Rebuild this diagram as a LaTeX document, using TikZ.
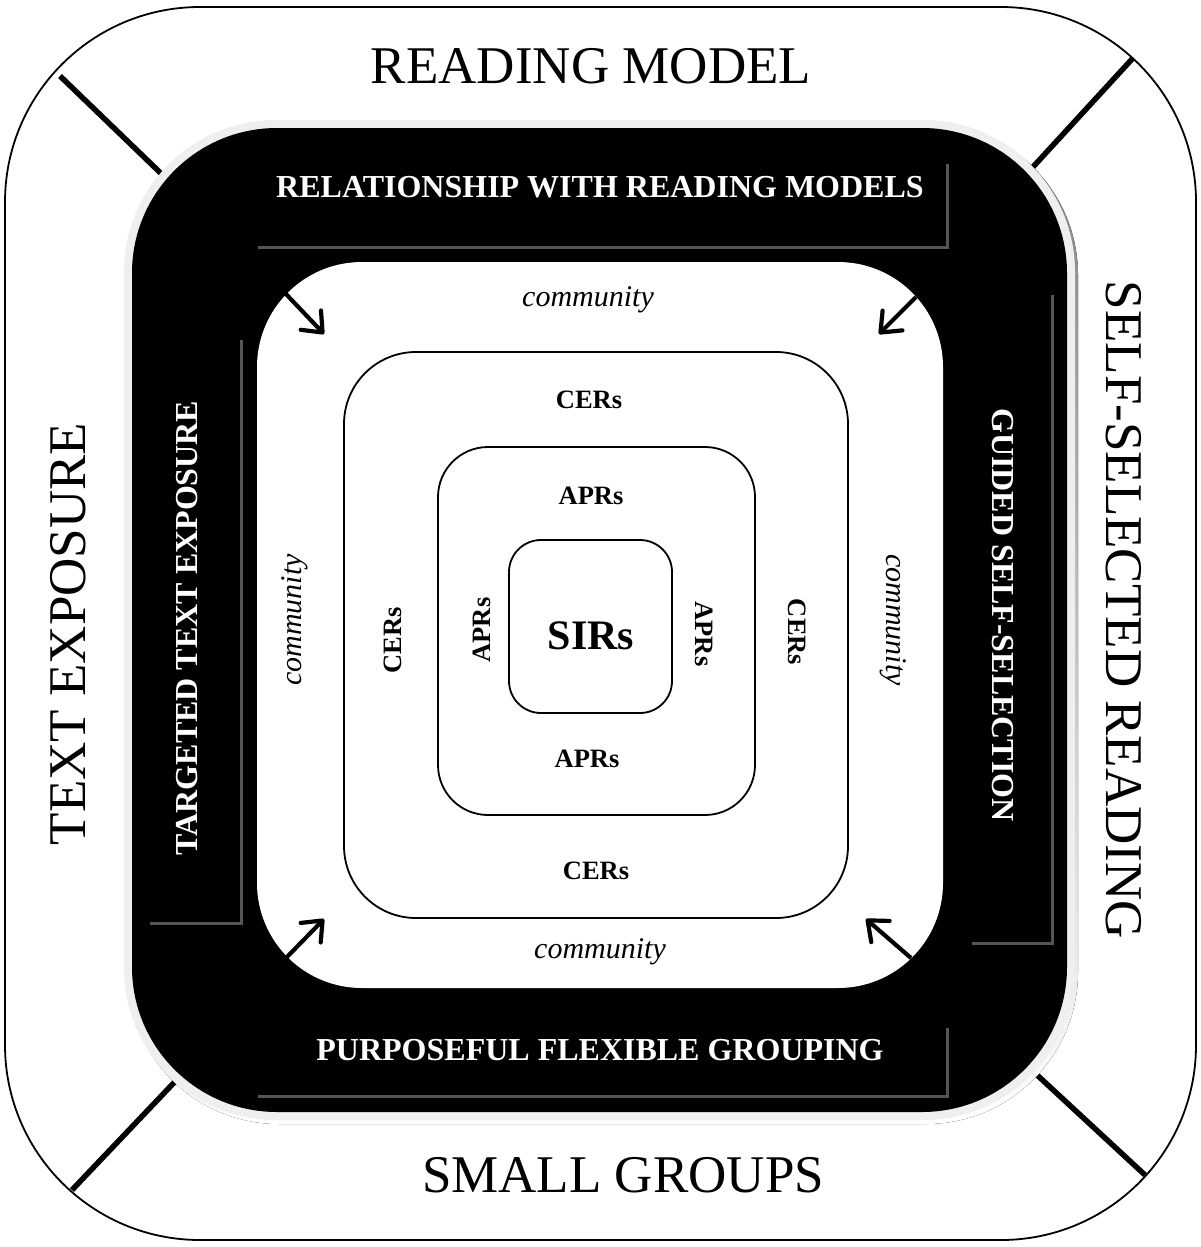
\documentclass[tikz,border=0pt]{standalone}
\usepackage{fontspec}
\setmainfont{Liberation Serif}
\usetikzlibrary{arrows.meta}
\definecolor{glow}{HTML}{EFEFEF}
\definecolor{shade}{HTML}{C4C4C4}
\definecolor{barline}{HTML}{555555}
\begin{document}
\begin{tikzpicture}[x=1pt,y=-1pt,
  bigtxt/.style={font=\fontsize{53}{60}\selectfont, inner sep=0pt},
  bartxt/.style={font=\fontsize{32}{36}\selectfont\bfseries, text=white, inner sep=0pt},
  comm/.style={font=\fontsize{30}{34}\selectfont\itshape, inner sep=0pt},
  ringtxt/.style={font=\fontsize{26.5}{30}\selectfont\bfseries, inner sep=0pt},
  spoke/.style={line width=5.5pt},
  barbox/.style={fill=black, draw=none, inner sep=0pt, rectangle},
  barshadow/.style={draw=barline, line width=3pt},
  loopbox/.style={draw=black, line width=1.8pt, rectangle, inner sep=0pt},
  inarrow/.style={line width=4.2pt, -{Straight Barb[length=17pt,width=28pt,round]}}
]
\useasboundingbox (0,0) rectangle (1200,1247);
\fill[white] (0,0) rectangle (1200,1247);

% outer frame
\node[loopbox, rounded corners=195pt, minimum width=1191pt, minimum height=1233pt] (outer) at (600.5,623.5) {};

% spokes
\coordinate (s1a) at (60,76);   \coordinate (s1b) at (172,184);
\coordinate (s2a) at (1133,58); \coordinate (s2b) at (1021,180);
\coordinate (s3a) at (72,1190); \coordinate (s3b) at (186,1070);
\coordinate (s4a) at (1145,1175); \coordinate (s4b) at (1023,1062);
\draw[spoke] (s1a) -- (s1b);
\draw[spoke] (s2a) -- (s2b);
\draw[spoke] (s3a) -- (s3b);
\draw[spoke] (s4a) -- (s4b);

% black band with glow
\fill[shade, rounded corners=152pt] (127,123) rectangle (1078,1124);
\fill[glow, rounded corners=152pt] (124,120) rectangle (1075,1120);
\node[fill=black, rectangle, inner sep=0pt, rounded corners=145pt, minimum width=935pt, minimum height=984pt] (band) at (599.5,620) {};

% inner white field
\node[fill=white, rectangle, inner sep=0pt, rounded corners=105pt, minimum width=686pt, minimum height=726pt] (field) at (600,625) {};

% bars
\node[barbox, minimum width=689pt, minimum height=83pt] (topbar) at (602.5,205.5) {};
\node[barbox, minimum width=91pt, minimum height=583pt] (leftbar) at (195.5,631.5) {};
\node[barbox, minimum width=80pt, minimum height=648pt] (rightbar) at (1012,619) {};
\node[barbox, minimum width=689pt, minimum height=68pt] (botbar) at (602.5,1062) {};
\draw[barshadow] (topbar.north east) -- (topbar.south east) -- (topbar.south west);
\draw[barshadow] (leftbar.north east) -- (leftbar.south east) -- (leftbar.south west);
\draw[barshadow] (rightbar.north east) -- (rightbar.south east) -- (rightbar.south west);
\draw[barshadow] (botbar.north east) -- (botbar.south east) -- (botbar.south west);

\node[bartxt] (reltxt) at (600,187) {RELATIONSHIP WITH READING MODELS};
\node[bartxt] (purtxt) at (600,1050) {PURPOSEFUL FLEXIBLE GROUPING};
\node[bartxt, rotate=90] (tartxt) at (187,628) {TARGETED TEXT EXPOSURE};
\node[bartxt, rotate=-90] (guitxt) at (1003,615) {GUIDED SELF-SELECTION};

% outer labels
\node[bigtxt] (rm) at (591,66) {READING MODEL};
\node[bigtxt] (sg) at (623,1175) {SMALL GROUPS};
\node[bigtxt, rotate=90] (te) at (68,634) {TEXT EXPOSURE};
\node[bigtxt, rotate=-90] (ssr) at (1124,610) {SELF-SELECTED READING};

% nested loops
\node[loopbox, rounded corners=72pt, minimum width=504pt, minimum height=566pt] (cer) at (596,635) {};
\node[loopbox, rounded corners=50pt, minimum width=317pt, minimum height=368pt] (apr) at (596.5,631) {};
\node[loopbox, rounded corners=32pt, minimum width=163pt, minimum height=173pt] (sir) at (590.5,626.5) {};

% community labels
\node[comm] (c1) at (588,300) {community};
\node[comm] (c2) at (600,952) {community};
\node[comm, rotate=90] (c3) at (295,620) {community};
\node[comm, rotate=-90] (c4) at (893,620) {community};

% ring labels
\node[ringtxt] (cert) at (589,400) {CERs};
\node[ringtxt] (cerb) at (596,871) {CERs};
\node[ringtxt, rotate=90] (cerl) at (393,640) {CERs};
\node[ringtxt, rotate=-90] (cerr) at (797,632) {CERs};
\node[ringtxt] (aprt) at (591,496) {APRs};
\node[ringtxt] (aprb) at (587,759) {APRs};
\node[ringtxt, rotate=90] (aprl) at (482,630) {APRs};
\node[ringtxt, rotate=-90] (aprr) at (704,634) {APRs};
\node[font=\fontsize{42}{46}\selectfont\bfseries, inner sep=0pt] (sirt) at (591,636) {SIRs};

% arrows
\coordinate (a1s) at (285,293); \coordinate (a1e) at (324,334);
\coordinate (a2s) at (916,297); \coordinate (a2e) at (879,334);
\coordinate (a3s) at (287,957); \coordinate (a3e) at (324,919);
\coordinate (a4s) at (911,958); \coordinate (a4e) at (866,919);
\draw[inarrow] (a1s) -- (a1e);
\draw[inarrow] (a2s) -- (a2e);
\draw[inarrow] (a3s) -- (a3e);
\draw[inarrow] (a4s) -- (a4e);
\end{tikzpicture}
\end{document}
